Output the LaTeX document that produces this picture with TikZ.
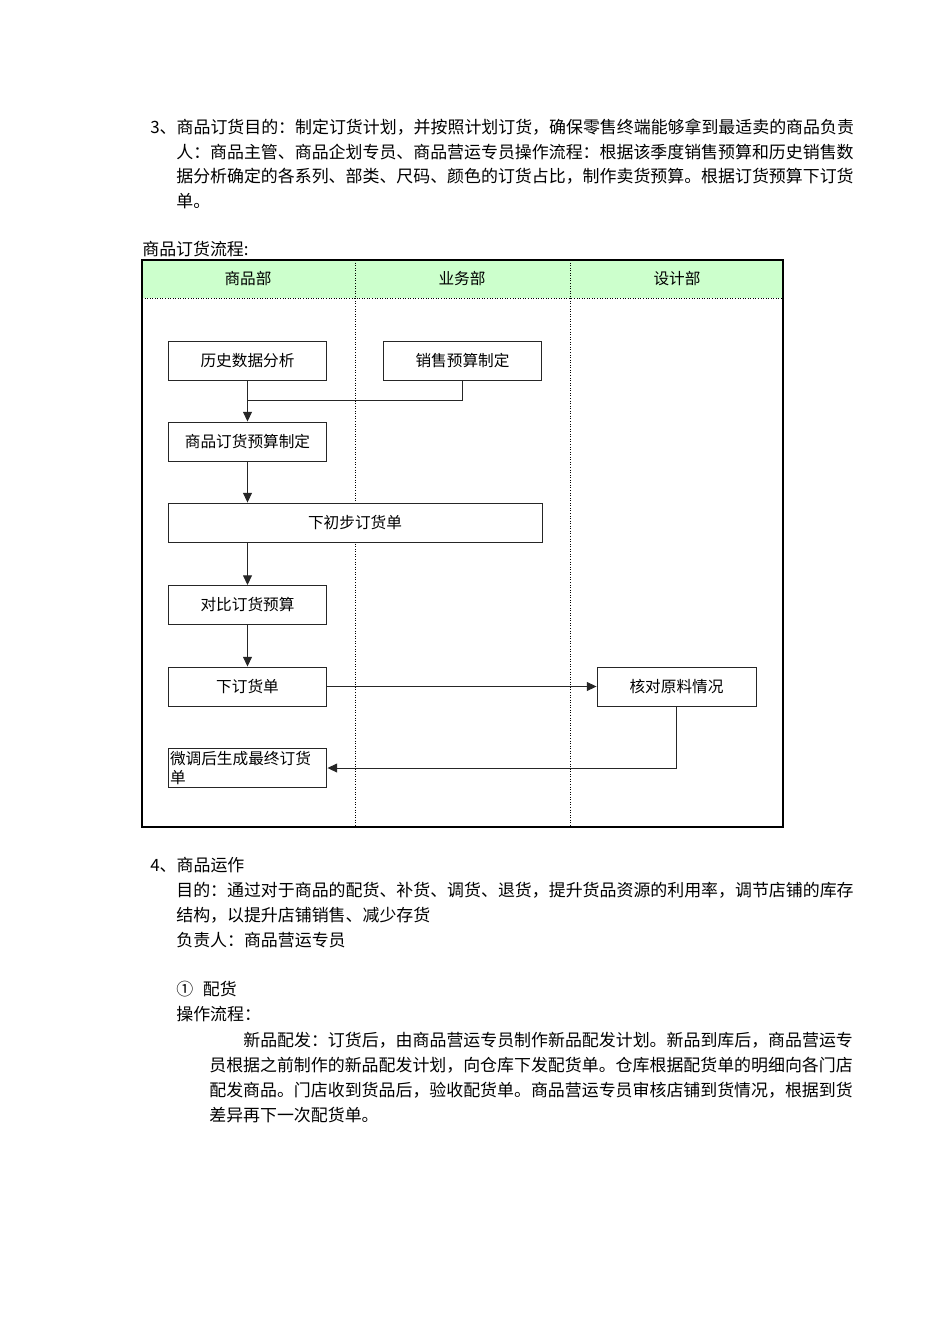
\documentclass[tikz,border=0pt]{standalone}
\usepackage{fontspec}
\setmainfont{Noto Sans CJK SC}
\usepackage{xcolor}
\usetikzlibrary{arrows.meta}
\definecolor{hdrgreen}{HTML}{CCFFCC}

\begin{document}
\begin{tikzpicture}[x=0.626pt,y=-0.626pt,
  txt/.style={anchor=base west,inner sep=0pt,font=\fontsize{10.6}{15}\selectfont},
  box/.style={draw=black!85,fill=white,line width=0.6pt,minimum width=99.5pt,minimum height=24.4pt,inner sep=1pt,font=\fontsize{9.8}{12}\selectfont},
  link/.style={draw=black!85,line width=0.6pt},
  arr/.style={link,-{Triangle[length=6pt,width=5.5pt]}}]
\useasboundingbox (0,0) rectangle (950,1344);
\node[txt] (p3a) at (150,133) {3、商品订货目的：制定订货计划，并按照计划订货，确保零售终端能够拿到最适卖的商品负责};
\node[txt] (p3b) at (176,158) {人：商品主管、商品企划专员、商品营运专员操作流程：根据该季度销售预算和历史销售数};
\node[txt] (p3c) at (176,182) {据分析确定的各系列、部类、尺码、颜色的订货占比，制作卖货预算。根据订货预算下订货};
\node[txt] (p3d) at (176,207) {单。};
\node[txt] (ttl) at (142,255) {商品订货流程:};
\fill[hdrgreen] (142,260) rectangle (783,298);
\draw[densely dotted,line width=0.6pt] (142,298) -- (783,298);
\foreach \x in {355,570}
\draw[densely dotted,line width=0.6pt] (\x,260) -- (\x,827);
\draw[line width=0.8pt] (142,260) rectangle (783,827);
\foreach \x/\n/\t in {248/laneA/商品部,462/laneB/业务部,677/laneC/设计部}
\node[font=\fontsize{9.8}{12}\selectfont] (\n) at (\x,279) {\t};
\node[box] (hist) at (247.5,360.5) {历史数据分析};
\node[box] (sales) at (462.5,360.5) {销售预算制定};
\node[box] (plan) at (247.5,441.5) {商品订货预算制定};
\node[box,minimum width=234.1pt,minimum height=25pt] (prelim) at (355,523) {下初步订货单};
\node[box] (cmp) at (247.5,605) {对比订货预算};
\node[box] (order) at (247.5,686.5) {下订货单};
\node[box] (check) at (676.5,686.5) {核对原料情况};
\node[box,align=left,text width=97pt,minimum height=25pt] (final) at (247.5,768) {微调后生成最终订货\\单};
\coordinate (join) at (247.5,400);
\draw[arr] (hist) -- (plan);
\draw[link] (sales.south) |- (join);
\draw[arr] (plan) -- (plan |- prelim.north);
\draw[arr] (plan |- prelim.south) -- (cmp);
\draw[arr] (cmp) -- (order);
\draw[arr] (order) -- (check);
\draw[arr] (check.south) |- (final.east);
\node[txt] (p4a) at (150,871) {4、商品运作};
\node[txt] (p4b) at (176,896) {目的：通过对于商品的配货、补货、调货、退货，提升货品资源的利用率，调节店铺的库存};
\node[txt] (p4c) at (176,921) {结构，以提升店铺销售、减少存货};
\node[txt] (p4d) at (176,946) {负责人：商品营运专员};
\node[txt] (p4e) at (176,995) {①\hspace{6pt}配货};
\node[txt] (p4f) at (176,1020) {操作流程：};
\node[txt] (p4g) at (243,1046) {新品配发：订货后，由商品营运专员制作新品配发计划。新品到库后，商品营运专};
\node[txt] (p4h) at (209,1071) {员根据之前制作的新品配发计划，向仓库下发配货单。仓库根据配货单的明细向各门店};
\node[txt] (p4i) at (209,1096) {配发商品。门店收到货品后，验收配货单。商品营运专员审核店铺到货情况，根据到货};
\node[txt] (p4j) at (209,1121) {差异再下一次配货单。};
\end{tikzpicture}
\end{document}
